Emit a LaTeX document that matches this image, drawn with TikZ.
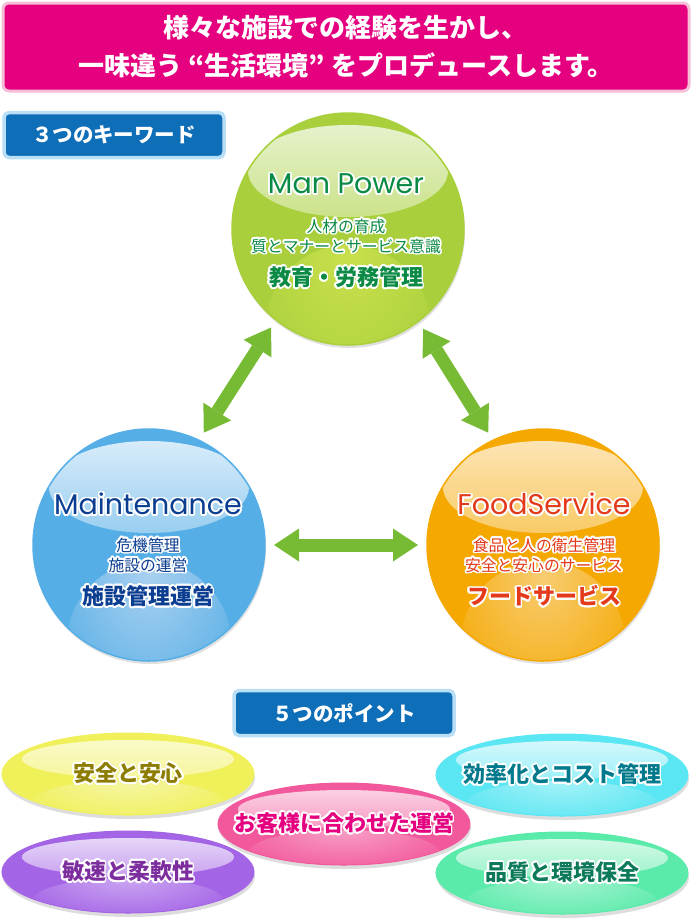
\documentclass[tikz,border=0pt]{standalone}
\usepackage{fontspec}
\setmainfont{Noto Sans CJK JP}
\newfontfamily\latinfont{Poppins}
\usepackage[copies]{contour}
\contourlength{1.7pt}
\contournumber{20}
\usetikzlibrary{arrows.meta,shapes.geometric,shadows}
\definecolor{bannerPink}{HTML}{E4007F}
\definecolor{bannerEdge}{HTML}{F6BDD7}
\definecolor{tagBlue}{HTML}{0F6EB8}
\definecolor{tagEdge}{HTML}{B8DFF6}
\definecolor{arrowGreen}{HTML}{77BB35}
\definecolor{mpBase}{HTML}{A9CF3C}
\definecolor{mpHi}{HTML}{E6F2CC}
\definecolor{mpGlow}{HTML}{C8E04C}
\definecolor{mpText}{HTML}{0A8A45}
\definecolor{mtBase}{HTML}{55AEE6}
\definecolor{mtHi}{HTML}{D8ECFA}
\definecolor{mtGlow}{HTML}{A8D0F0}
\definecolor{mtText}{HTML}{0B3D91}
\definecolor{fsBase}{HTML}{F5A800}
\definecolor{fsHi}{HTML}{FCE4B4}
\definecolor{fsGlow}{HTML}{F8CC70}
\definecolor{fsText}{HTML}{E23A1A}
\definecolor{ylBase}{HTML}{F0F05A}
\definecolor{ylHi}{HTML}{FAFAC8}
\definecolor{ylGlow}{HTML}{F6F6A8}
\definecolor{ylText}{HTML}{8C7D00}
\definecolor{cyBase}{HTML}{5AE6F2}
\definecolor{cyHi}{HTML}{D4F8FC}
\definecolor{cyGlow}{HTML}{A8F2F8}
\definecolor{cyText}{HTML}{00798C}
\definecolor{pkBase}{HTML}{F2589C}
\definecolor{pkHi}{HTML}{FBD0E2}
\definecolor{pkGlow}{HTML}{F8A0C6}
\definecolor{pkText}{HTML}{E4007F}
\definecolor{puBase}{HTML}{A464E6}
\definecolor{puHi}{HTML}{E6D6F8}
\definecolor{puGlow}{HTML}{CCA8F2}
\definecolor{puText}{HTML}{7D2E9E}
\definecolor{grBase}{HTML}{5AEAAA}
\definecolor{grHi}{HTML}{D2F9E6}
\definecolor{grGlow}{HTML}{A8F4D2}
\definecolor{grText}{HTML}{0C7A5A}

\begin{document}
\begin{tikzpicture}[x=1pt,y=-1pt,
  banner/.style={rectangle,rounded corners=6pt,fill=bannerPink,draw=bannerEdge,line width=3pt,
    minimum width=686pt,minimum height=88pt,inner sep=0pt,align=center,text=white,
    font=\bfseries\fontsize{26}{38}\selectfont},
  tagbox/.style={rectangle,rounded corners=5pt,fill=tagBlue,draw=tagEdge,line width=3.5pt,
    minimum width=220pt,minimum height=45pt,inner sep=0pt,text=white,
    font=\bfseries\fontsize{20.5}{20}\selectfont},
  ball/.style n args={3}{circle,minimum size=232pt,inner sep=0pt,outer sep=9pt,
    fill=#1,draw=#1,line width=1.5pt,
    drop shadow={shadow xshift=1pt,shadow yshift=-3pt,opacity=.2,fill=black!60},
    path picture={
      \shade[inner color=#3,outer color=#1] ([yshift=-98pt]path picture bounding box.center) circle (82pt);
      \shade[top color=#2,bottom color=#1!60!white] ([yshift=58pt]path picture bounding box.center) ellipse (100pt and 46pt);
    }},
  pill/.style n args={3}{ellipse,minimum width=252pt,minimum height=82pt,inner sep=0pt,
    fill=#1,draw=#1,line width=1pt,
    drop shadow={shadow xshift=1pt,shadow yshift=-4pt,opacity=.22,fill=black!60},
    path picture={
      \shade[inner color=#3,outer color=#1] ([yshift=-28pt]path picture bounding box.center) ellipse (95pt and 22pt);
      \shade[top color=#2,bottom color=#1!60!white] ([yshift=15pt]path picture bounding box.center) ellipse (106pt and 19pt);
    },
    font=\bfseries\fontsize{22}{22}\selectfont},
  ttl/.style={inner sep=0pt,font=\latinfont\fontsize{28.5}{30}\selectfont},
  sub/.style={inner sep=0pt,align=center,font=\fontsize{15.8}{20}\selectfont},
  key/.style={inner sep=0pt,font=\bfseries\fontsize{22}{22}\selectfont},
  dbl/.style={line width=13pt,draw=arrowGreen,
    {Triangle[width=33pt,length=25pt,line width=0pt]}-{Triangle[width=33pt,length=25pt,line width=0pt]}}]
\useasboundingbox (0,0) rectangle (691,922);

\node[banner] (head) at (346,47) {様々な施設での経験を生かし、\\一味違う\hspace{0.25em}“生活環境”\hspace{0.25em}をプロデュースします。};
\node[tagbox] (tag1) at (114,135) {３つのキーワード};

\node[ball={mpBase}{mpHi}{mpGlow}] (mp) at (348,229) {};
\node[ball={mtBase}{mtHi}{mtGlow}] (mt) at (149,545) {};
\node[ball={fsBase}{fsHi}{fsGlow}] (fs) at (543,545) {};

\node[ttl,text=mpText] (mpT) at (346,185) {\contour{white}{Man Power}};
\node[sub,text=mpText] (mpS) at (346,237) {\contour{white}{人材の育成}\\\contour{white}{質とマナーとサービス意識}};
\node[key,text=mpText] (mpK) at (346,278) {\contour{white}{教育・労務管理}};

\node[ttl,text=mtText] (mtT) at (148,505) {\contour{white}{Maintenance}};
\node[sub,text=mtText] (mtS) at (148,556) {\contour{white}{危機管理}\\\contour{white}{施設の運営}};
\node[key,text=mtText] (mtK) at (148,597) {\contour{white}{施設管理運営}};

\node[ttl,text=fsText] (fsT) at (544,505) {\contour{white}{FoodService}};
\node[sub,text=fsText] (fsS) at (544,556) {\contour{white}{食品と人の衛生管理}\\\contour{white}{安全と安心のサービス}};
\node[key,text=fsText] (fsK) at (544,597) {\contour{white}{フードサービス}};

\draw[dbl] (mp.232) -- (mt.64);
\draw[dbl] (mp.307) -- (fs.116);
\draw[dbl] (mt.0) -- (fs.180);

\node[tagbox] (tag2) at (344,713) {５つのポイント};

\node[pill={ylBase}{ylHi}{ylGlow},text=ylText] (pt1) at (128,774) {\makebox[0pt]{\contour{white}{安全と安心}}};
\node[pill={cyBase}{cyHi}{cyGlow},text=cyText] (pt2) at (562,775) {\makebox[0pt]{\contour{white}{効率化とコスト管理}}};
\node[pill={puBase}{puHi}{puGlow},text=puText] (pt3) at (128,872) {\makebox[0pt]{\contour{white}{敏速と柔軟性}}};
\node[pill={grBase}{grHi}{grGlow},text=grText] (pt4) at (562,873) {\makebox[0pt]{\contour{white}{品質と環境保全}}};
\node[pill={pkBase}{pkHi}{pkGlow},text=pkText] (pt5) at (344,824) {\makebox[0pt]{\contour{white}{お客様に合わせた運営}}};
\end{tikzpicture}
\end{document}
